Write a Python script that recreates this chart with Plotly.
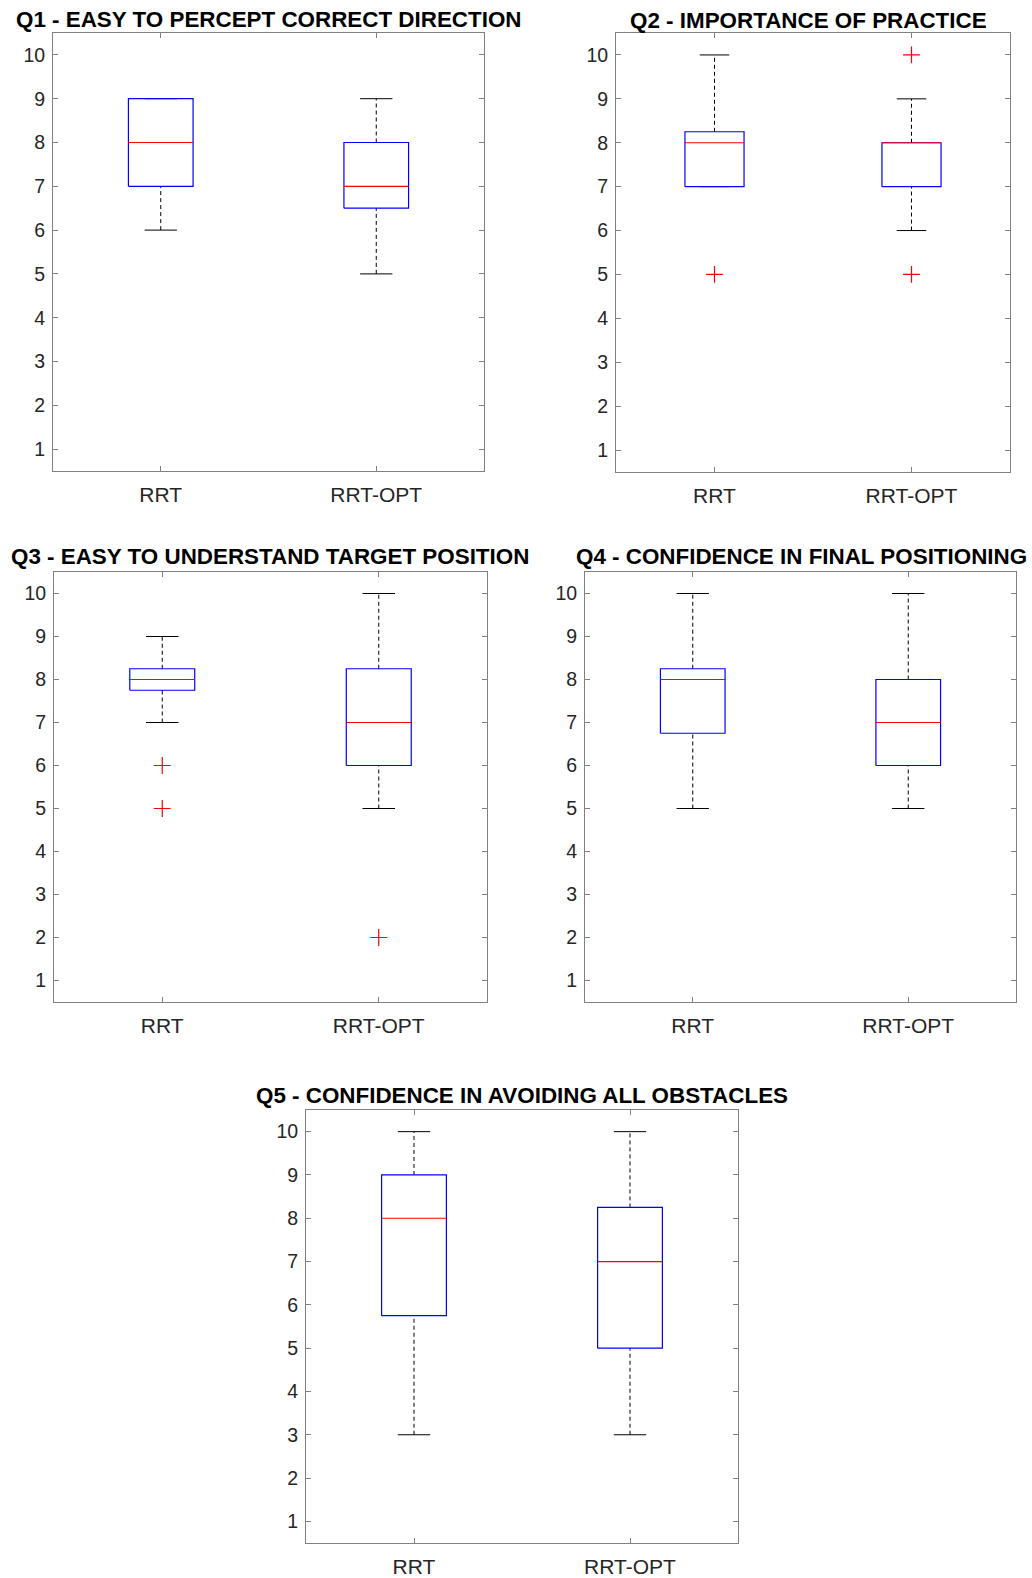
import plotly.graph_objects as go

# Survey results: per-question box statistics for the two planners
groups = ["RRT", "RRT-OPT"]
titles = [
    "Q1 - EASY TO PERCEPT CORRECT DIRECTION",
    "Q2 - IMPORTANCE OF PRACTICE",
    "Q3 - EASY TO UNDERSTAND TARGET POSITION",
    "Q4 - CONFIDENCE IN FINAL POSITIONING",
    "Q5 - CONFIDENCE IN AVOIDING ALL OBSTACLES",
]
lower_whisker = [[6, 5], [7, 6], [7, 5], [5, 5], [3, 3]]
q1 = [[7, 6.5], [7, 7], [7.75, 6], [6.75, 6], [5.75, 5]]
median = [[8, 7], [8, 8], [8, 7], [8, 7], [8, 7]]
q3 = [[9, 8], [8.25, 8], [8.25, 8.25], [8.25, 8], [9, 8.25]]
upper_whisker = [[9, 9], [10, 9], [9, 10], [10, 10], [10, 10]]
outliers = [[[], []], [[5], [10, 5]], [[6, 5], [2]], [[], []], [[], []]]
y_ticks = list(range(1, 11))

W, H = 1032, 1578
# panel rectangles in pixels: (left, right, top, bottom)
panels = [
    (53, 484, 33, 471),
    (616, 1010, 33, 472),
    (54, 487, 572, 1002),
    (585, 1016, 572, 1002),
    (306, 738, 1110, 1543),
]
# title centres in pixels: (x, y)
title_pos = [(269, 19), (808, 20), (270, 556), (801, 556), (522, 1095)]

BOX_HALF = 0.15
CAP_HALF = 0.075
AXIS_GRAY = "#808080"
TEXT = "#262626"
FONT = "Liberation Sans, Arial, Helvetica, sans-serif"

fig = go.Figure()
layout = dict(
    width=W, height=H,
    margin=dict(l=0, r=0, t=0, b=0),
    paper_bgcolor="white", plot_bgcolor="white",
    showlegend=False,
    font=dict(family=FONT, color=TEXT),
    annotations=[],
)

for k in range(5):
    ax = "" if k == 0 else str(k + 1)
    xref, yref = "x" + ax, "y" + ax
    l, r, t, b = panels[k]

    wx, wy, cx, cy, bx, by, mx, my, ox, oy = ([] for _ in range(10))
    for g in range(len(groups)):
        p = g + 1
        # dashed whiskers
        wx += [p, p, None, p, p, None]
        wy += [q3[k][g], upper_whisker[k][g], None, lower_whisker[k][g], q1[k][g], None]
        # whisker caps
        cx += [p - CAP_HALF, p + CAP_HALF, None, p - CAP_HALF, p + CAP_HALF, None]
        cy += [upper_whisker[k][g], upper_whisker[k][g], None,
               lower_whisker[k][g], lower_whisker[k][g], None]
        # box outline
        bx += [p - BOX_HALF, p + BOX_HALF, p + BOX_HALF, p - BOX_HALF, p - BOX_HALF, None]
        by += [q1[k][g], q1[k][g], q3[k][g], q3[k][g], q1[k][g], None]
        # median
        mx += [p - BOX_HALF, p + BOX_HALF, None]
        my += [median[k][g], median[k][g], None]
        # outliers
        for v in outliers[k][g]:
            ox.append(p)
            oy.append(v)

    common = dict(xaxis=xref, yaxis=yref, hoverinfo="skip")
    fig.add_trace(go.Scatter(x=wx, y=wy, mode="lines",
                             line=dict(color="black", width=1, dash="4px,3px"), **common))
    fig.add_trace(go.Scatter(x=cx, y=cy, mode="lines",
                             line=dict(color="black", width=1), **common))
    fig.add_trace(go.Scatter(x=bx, y=by, mode="lines",
                             line=dict(color="#0000ff", width=1.2), **common))
    fig.add_trace(go.Scatter(x=mx, y=my, mode="lines",
                             line=dict(color="#ff0000", width=1.2), **common))
    if ox:
        fig.add_trace(go.Scatter(x=ox, y=oy, mode="markers",
                                 marker=dict(symbol="cross-thin", size=12,
                                             line=dict(color="#ff0000", width=1.2)),
                                 **common))

    axis_common = dict(
        showline=True, linecolor=AXIS_GRAY, linewidth=1, mirror="ticks",
        ticks="inside", ticklen=5, tickcolor=AXIS_GRAY, tickwidth=1,
        showgrid=False, zeroline=False, fixedrange=True,
    )
    layout["xaxis" + ax] = dict(
        domain=[l / W, r / W], anchor=yref, range=[0.5, 2.5],
        tickmode="array", tickvals=[1, 2], ticktext=groups,
        ticklabelstandoff=5,
        tickfont=dict(size=21, color=TEXT, family=FONT), **axis_common,
    )
    layout["yaxis" + ax] = dict(
        domain=[1 - b / H, 1 - t / H], anchor=xref, range=[0.5, 10.5],
        tickmode="array", tickvals=y_ticks, ticktext=[str(v) for v in y_ticks],
        ticklabelstandoff=3,
        tickfont=dict(size=19.5, color=TEXT, family=FONT), **axis_common,
    )
    tx, ty = title_pos[k]
    layout["annotations"].append(dict(
        text="<b>" + titles[k] + "</b>", xref="paper", yref="paper",
        x=tx / W, y=1 - ty / H, xanchor="center", yanchor="middle",
        showarrow=False, font=dict(size=22.4, color="black", family=FONT),
    ))

fig.update_layout(**layout)
fig.write_html("out.html")
